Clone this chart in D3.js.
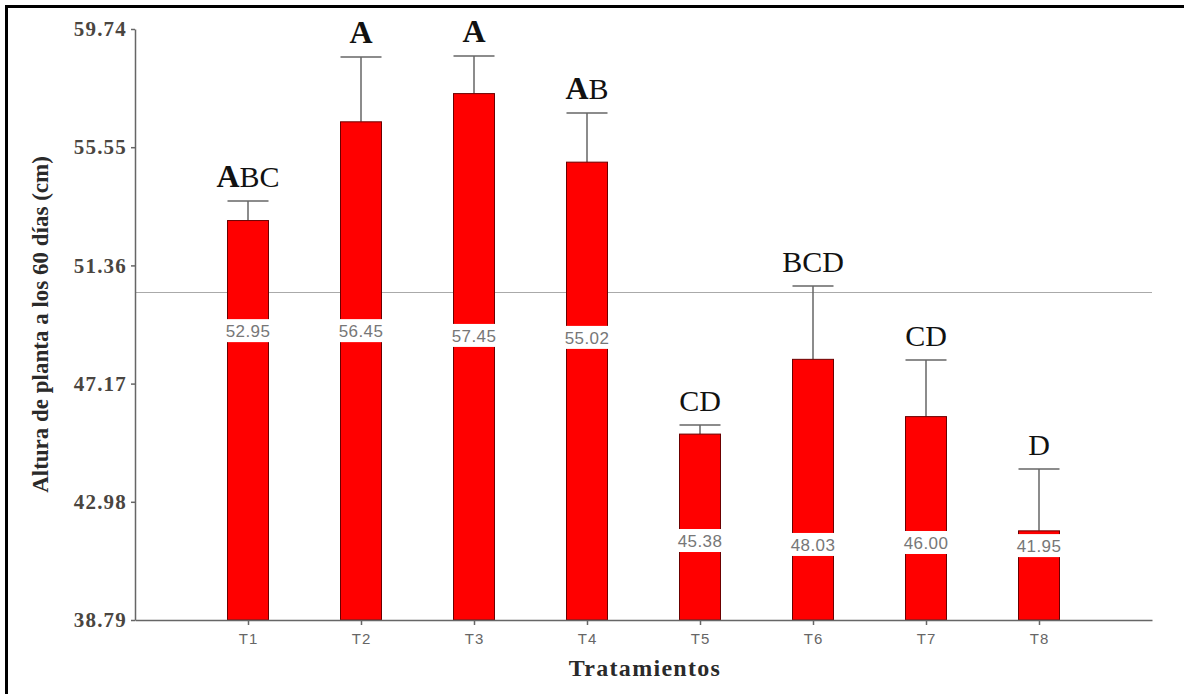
<!DOCTYPE html>
<html>
<head>
<meta charset="utf-8">
<script src="https://cdn.jsdelivr.net/npm/d3@7"></script>
<style>
  html, body { margin: 0; padding: 0; background: #fff; }
  svg { display: block; }
</style>
</head>
<body>
<svg id="chart" width="1184" height="694"></svg>
<script>
const categories = ["T1", "T2", "T3", "T4", "T5", "T6", "T7", "T8"];
const means = [52.95, 56.45, 57.45, 55.02, 45.38, 48.03, 46.00, 41.95];
const upper = [53.64, 58.75, 58.78, 56.76, 45.70, 50.63, 48.01, 44.14];
const letters = ["ABC", "A", "A", "AB", "CD", "BCD", "CD", "D"];
const labelAt = [49.03, 49.03, 48.86, 48.79, 41.59, 41.45, 41.52, 41.41];
const yTicks = [38.79, 42.98, 47.17, 51.36, 55.55, 59.74];
const refLine = 50.40;
const yTitle = "Altura de planta a los 60 días (cm)";
const xTitle = "Tratamientos";

const svg = d3.select("#chart");
const serif = "'Liberation Serif', 'Times New Roman', serif";
const sans = "'Liberation Sans', Arial, sans-serif";

// frame
svg.append("rect").attr("x", 6.5).attr("y", 6.5).attr("width", 1300).attr("height", 800)
  .attr("fill", "none").attr("stroke", "#000").attr("stroke-width", 3);

const x = d3.scalePoint().domain(categories).range([135, 1152]).padding(1);
const y = d3.scaleLinear().domain([38.79, 59.74]).range([620, 29]);
const barW = 41;

// reference line
svg.append("line")
  .attr("x1", x.range()[0]).attr("x2", x.range()[1])
  .attr("y1", y(refLine)).attr("y2", y(refLine))
  .attr("stroke", "#aaa").attr("stroke-width", 1.2);

const data = categories.map((c, i) => ({c, m: means[i], u: upper[i], l: letters[i], la: labelAt[i]}));

// error bars
const eb = svg.append("g");
eb.selectAll("line.v").data(data).join("line")
  .attr("x1", d => x(d.c)).attr("x2", d => x(d.c))
  .attr("y1", d => y(d.m)).attr("y2", d => y(d.u))
  .attr("stroke", "#666").attr("stroke-width", 1.5);
eb.selectAll("line.cap").data(data).join("line")
  .attr("x1", d => x(d.c) - barW / 2).attr("x2", d => x(d.c) + barW / 2)
  .attr("y1", d => y(d.u)).attr("y2", d => y(d.u))
  .attr("stroke", "#666").attr("stroke-width", 1.5);

// bars
svg.append("g").selectAll("rect").data(data).join("rect")
  .attr("x", d => x(d.c) - barW / 2)
  .attr("y", d => y(d.m))
  .attr("width", barW)
  .attr("height", d => y(38.79) - y(d.m))
  .attr("fill", "#ff0000")
  .attr("stroke", "#6b0000").attr("stroke-width", 1);

// value labels
const vl = svg.append("g");
data.forEach(d => {
  const g = vl.append("g");
  const t = g.append("text")
    .attr("x", x(d.c)).attr("y", y(d.la))
    .attr("dy", "0.36em")
    .attr("text-anchor", "middle")
    .attr("font-family", sans).attr("font-size", 17)
    .attr("letter-spacing", 0.4)
    .attr("fill", "#777")
    .text(d.m.toFixed(2));
  const bb = t.node().getBBox();
  g.insert("rect", "text")
    .attr("x", bb.x - 1).attr("y", y(d.la) - 12)
    .attr("width", bb.width + 2).attr("height", 23)
    .attr("fill", "#fff");
});

// significance letters
const lt = svg.append("g");
data.forEach(d => {
  const t = lt.append("text")
    .attr("x", x(d.c)).attr("y", y(d.u) - 14)
    .attr("text-anchor", "middle")
    .attr("font-family", serif).attr("fill", "#111");
  d.l.split("").forEach(ch => {
    t.append("tspan")
      .attr("font-weight", ch === "A" ? "bold" : "normal")
      .attr("font-size", ch === "A" ? 32 : 30)
      .text(ch);
  });
});

// axes
const yAxis = svg.append("g").attr("transform", "translate(135,0)")
  .call(d3.axisLeft(y).tickValues(yTicks).tickSize(4).tickSizeOuter(0).tickPadding(4).tickFormat(d3.format(".2f")));
yAxis.select(".domain").attr("stroke", "#666").attr("stroke-width", 1.5);
yAxis.selectAll(".tick line").attr("stroke", "#666").attr("stroke-width", 1.5);
yAxis.selectAll(".tick text")
  .attr("font-family", serif).attr("font-weight", "bold").attr("font-size", 21)
  .attr("letter-spacing", 1.2).attr("fill", "#4a4540");

const xAxis = svg.append("g").attr("transform", "translate(0,620)")
  .call(d3.axisBottom(x).tickSize(5).tickSizeOuter(0).tickPadding(8));
xAxis.select(".domain").attr("stroke", "#666").attr("stroke-width", 1.5);
xAxis.selectAll(".tick line").attr("stroke", "#666").attr("stroke-width", 1.5);
xAxis.selectAll(".tick text")
  .attr("font-family", sans).attr("font-size", 15)
  .attr("letter-spacing", 1).attr("fill", "#666");

// axis titles
svg.append("text")
  .attr("transform", `translate(48,${(29 + 620) / 2}) rotate(-90)`)
  .attr("text-anchor", "middle")
  .attr("font-family", serif).attr("font-weight", "bold").attr("font-size", 23)
  .attr("fill", "#2a2a2a")
  .text(yTitle);

svg.append("text")
  .attr("x", 645).attr("y", 676)
  .attr("text-anchor", "middle")
  .attr("font-family", serif).attr("font-weight", "bold").attr("font-size", 24)
  .attr("letter-spacing", 1.3)
  .attr("fill", "#2a2a2a")
  .text(xTitle);
</script>
</body>
</html>
